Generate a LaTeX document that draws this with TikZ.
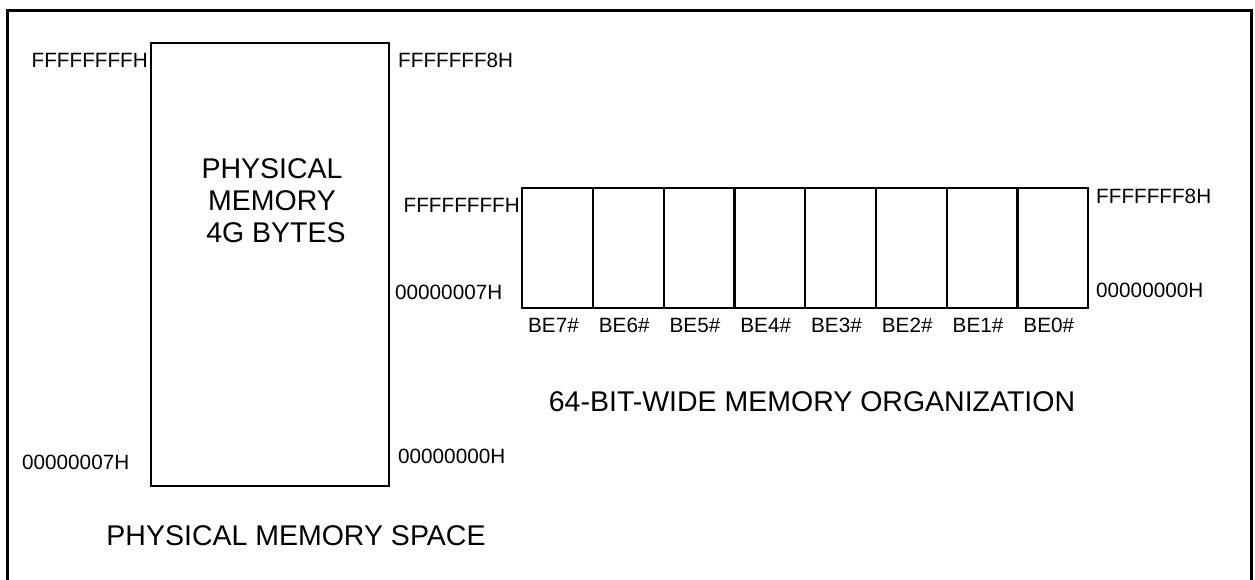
\documentclass[tikz,border=0pt]{standalone}
\usepackage{fontspec}
\setmainfont{Liberation Sans}
\begin{document}
\begin{tikzpicture}[x=1pt,y=-1pt,
  lbl/.style={font=\fontsize{20.7}{24}\selectfont, inner sep=0pt},
  ttl/.style={font=\fontsize{28.5}{32}\selectfont, inner sep=0pt},
  membox/.style={draw, line width=2.4pt, inner sep=0pt}]
\useasboundingbox (0,0) rectangle (1255,579);
% outer frame
\draw[line width=3pt] (7,620) -- (7,10) -- (1251,10) -- (1251,620);
% physical memory space
\node[membox, anchor=north west, minimum width=238pt, minimum height=443pt] (phys) at (150,42) {};
\node[ttl, align=center] (ptext) at (272,201) {PHYSICAL\\MEMORY\\\ 4G BYTES};
\node[lbl, anchor=east] (pfh) at (148,60) {FFFFFFFFH};
\node[lbl, anchor=west] (pf8) at (398,60) {FFFFFFF8H};
\node[lbl, anchor=west] (p07) at (22,462) {00000007H};
\node[lbl, anchor=west] (p00) at (398,456) {00000000H};
\node[ttl] (pspace) at (296,536) {PHYSICAL MEMORY SPACE};
% 64-bit wide organization
\foreach \i in {0,...,7} {
  \pgfmathsetmacro{\xx}{521+70.75*\i}
  \pgfmathtruncatemacro{\nn}{7-\i}
  \node[membox, anchor=north west, minimum width=70.75pt, minimum height=120pt] (c\nn) at (\xx,187) {};
  \node[lbl] (be\nn) at (\xx+32.5,325) {BE\nn\#};
}
\node[lbl, anchor=east] (ofh) at (520,205) {FFFFFFFFH};
\node[lbl, anchor=west] (o07) at (395,292) {00000007H};
\node[lbl, anchor=west] (of8) at (1096,196) {FFFFFFF8H};
\node[lbl, anchor=west] (o00) at (1096,290) {00000000H};
\node[ttl] (otitle) at (812,402) {64-BIT-WIDE MEMORY ORGANIZATION};
\end{tikzpicture}
\end{document}
